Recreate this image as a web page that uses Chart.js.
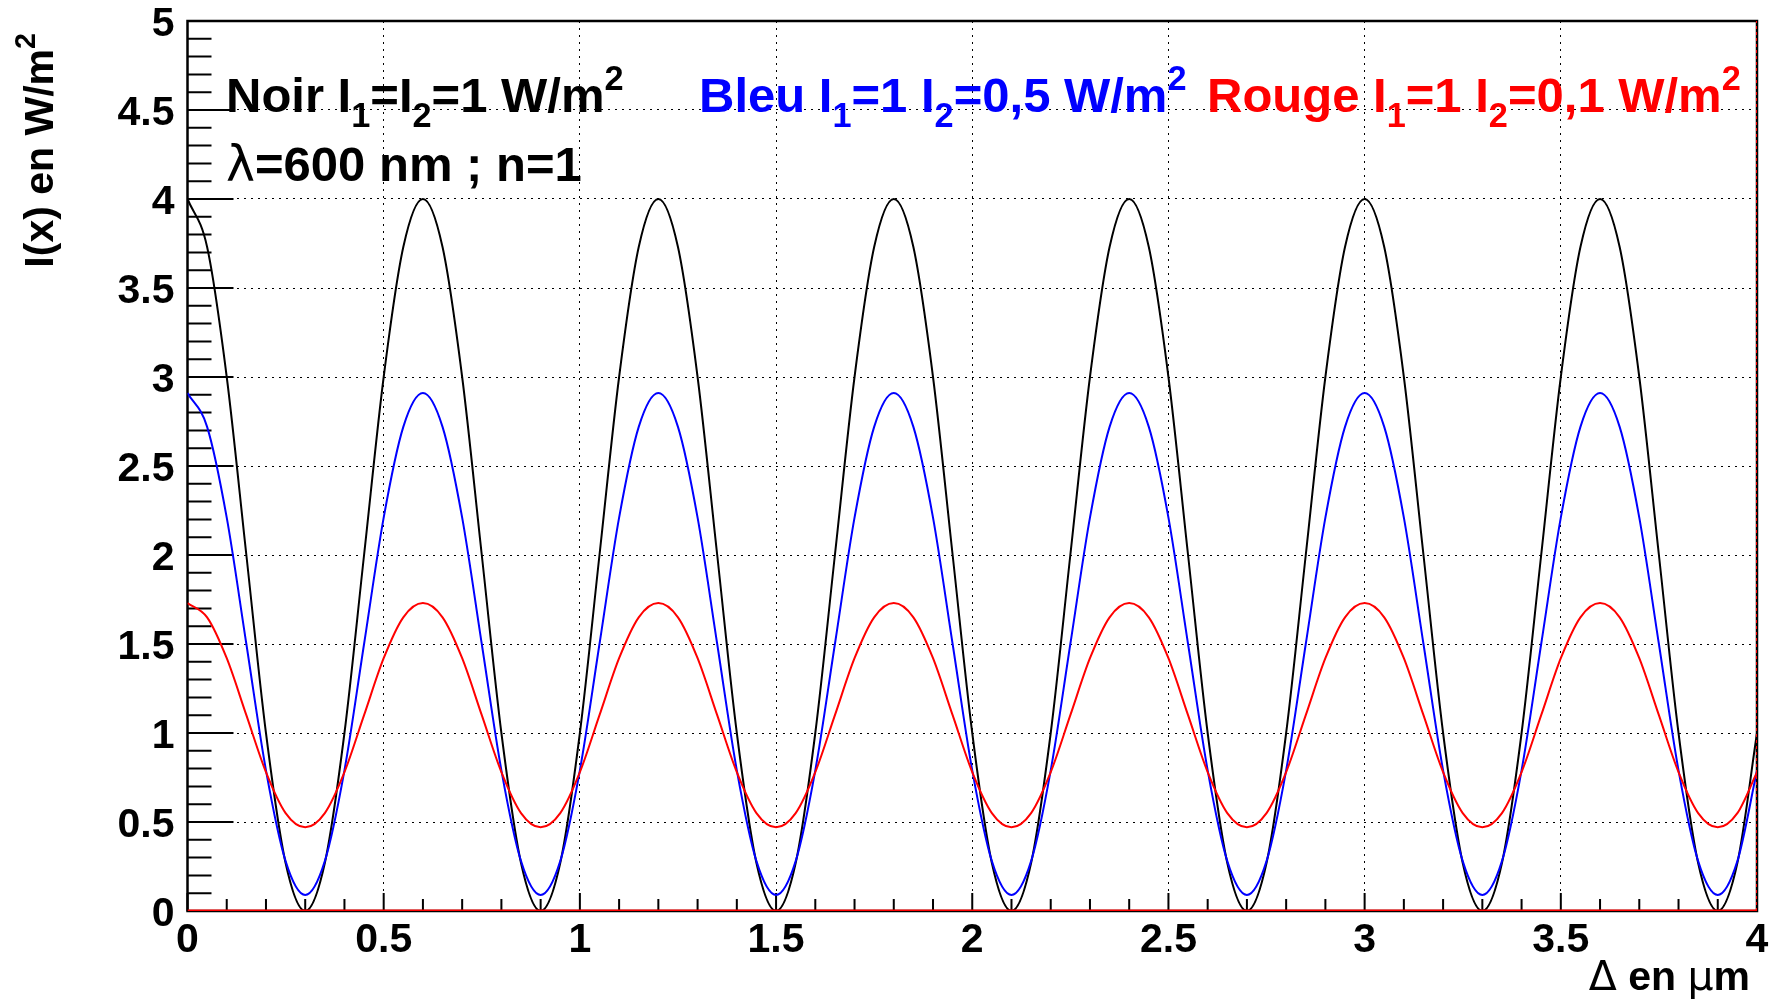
<!DOCTYPE html>
<html>
<head>
<meta charset="utf-8">
<script src="https://cdn.jsdelivr.net/npm/chart.js@4.4.0/dist/chart.umd.min.js"></script>
<style>
  body { margin: 0; background: #fff; }
  #wrap { width: 1776px; height: 1003px; }
</style>
</head>
<body>
<div id="wrap"><canvas id="chart" width="1776" height="1003"></canvas></div>
<script>
// path difference in µm
const xs = [0,0.05,0.1,0.15,0.2,0.25,0.3,0.35,0.4,0.45,0.5,0.55,0.6,0.65,0.7,0.75,0.8,0.85,0.9,0.95,
  1,1.05,1.1,1.15,1.2,1.25,1.3,1.35,1.4,1.45,1.5,1.55,1.6,1.65,1.7,1.75,1.8,1.85,1.9,1.95,
  2,2.05,2.1,2.15,2.2,2.25,2.3,2.35,2.4,2.45,2.5,2.55,2.6,2.65,2.7,2.75,2.8,2.85,2.9,2.95,
  3,3.05,3.1,3.15,3.2,3.25,3.3,3.35,3.4,3.45,3.5,3.55,3.6,3.65,3.7,3.75,3.8,3.85,3.9,3.95,4];

// I1 = I2 = 1
const noir = [4,3.73,3,2,1,0.27,0,0.27,1,2,3,3.73,
  4,3.73,3,2,1,0.27,0,0.27,1,2,3,3.73,
  4,3.73,3,2,1,0.27,0,0.27,1,2,3,3.73,
  4,3.73,3,2,1,0.27,0,0.27,1,2,3,3.73,
  4,3.73,3,2,1,0.27,0,0.27,1,2,3,3.73,
  4,3.73,3,2,1,0.27,0,0.27,1,2,3,3.73,
  4,3.73,3,2,1,0.27,0,0.27,1];

// I1 = 1, I2 = 0.5
const bleu = [2.91,2.72,2.21,1.5,0.79,0.28,0.09,0.28,0.79,1.5,2.21,2.72,
  2.91,2.72,2.21,1.5,0.79,0.28,0.09,0.28,0.79,1.5,2.21,2.72,
  2.91,2.72,2.21,1.5,0.79,0.28,0.09,0.28,0.79,1.5,2.21,2.72,
  2.91,2.72,2.21,1.5,0.79,0.28,0.09,0.28,0.79,1.5,2.21,2.72,
  2.91,2.72,2.21,1.5,0.79,0.28,0.09,0.28,0.79,1.5,2.21,2.72,
  2.91,2.72,2.21,1.5,0.79,0.28,0.09,0.28,0.79,1.5,2.21,2.72,
  2.91,2.72,2.21,1.5,0.79,0.28,0.09,0.28,0.79];

// I1 = 1, I2 = 0.1
const rouge = [1.73,1.65,1.42,1.1,0.78,0.55,0.47,0.55,0.78,1.1,1.42,1.65,
  1.73,1.65,1.42,1.1,0.78,0.55,0.47,0.55,0.78,1.1,1.42,1.65,
  1.73,1.65,1.42,1.1,0.78,0.55,0.47,0.55,0.78,1.1,1.42,1.65,
  1.73,1.65,1.42,1.1,0.78,0.55,0.47,0.55,0.78,1.1,1.42,1.65,
  1.73,1.65,1.42,1.1,0.78,0.55,0.47,0.55,0.78,1.1,1.42,1.65,
  1.73,1.65,1.42,1.1,0.78,0.55,0.47,0.55,0.78,1.1,1.42,1.65,
  1.73,1.65,1.42,1.1,0.78,0.55,0.47,0.55,0.78];

const xRange = [0, 4];
const yRange = [0, 5];

const SANS = '"Liberation Sans", Arial, sans-serif';

// text pieces: [text, kind] with kind sub / sup / sym (greek, thin)
const noirTxt = [['Noir I'], ['1', 'sub'], ['=I'], ['2', 'sub'], ['=1 W/m'], ['2', 'sup']];
const lambdaTxt = [['\u03bb', 'sym'], ['=600 nm ; n=1']];
const bleuTxt = [['Bleu I'], ['1', 'sub'], ['=1 I'], ['2', 'sub'], ['=0,5 W/m'], ['2', 'sup']];
const rougeTxt = [['Rouge I'], ['1', 'sub'], ['=1 I'], ['2', 'sub'], ['=0,1 W/m'], ['2', 'sup']];
const yTitle = [['I(x) en W/m'], ['2', 'sup']];
const xTitle = [['\u0394', 'sym'], [' en '], ['\u00b5', 'sym'], ['m']];

function rich(ctx, parts, x, y, size, color, dry) {
  let cx = x;
  parts.forEach(([t, kind]) => {
    let s = size, dy = 0, font = 'bold ' + size + 'px ' + SANS;
    if (kind === 'sub') { s = size * 0.7; dy = size * 0.3; }
    if (kind === 'sup') { s = size * 0.7; dy = -size * 0.45; }
    if (kind === 'sub' || kind === 'sup') font = 'bold ' + s + 'px ' + SANS;
    if (kind === 'sym') font = 'normal ' + size + 'px "DejaVu Sans", sans-serif';
    ctx.font = font;
    if (!dry) {
      ctx.fillStyle = color;
      ctx.fillText(t, cx, y + dy);
    }
    cx += ctx.measureText(t).width;
  });
  return cx - x;
}

const fmt = v => String(+v.toFixed(2));

const frameTicks = {
  id: 'frameTicks',
  beforeDatasetsDraw(chart) {
    const {ctx, chartArea: a, scales: {x, y}} = chart;
    ctx.save();
    ctx.strokeStyle = '#000';
    ctx.lineWidth = 2;
    ctx.beginPath();
    for (let i = 0; i <= 50; i++) {
      const py = y.getPixelForValue(i / 10);
      const len = i % 5 === 0 ? 46 : 24;
      ctx.moveTo(a.left, py); ctx.lineTo(a.left + len, py);
    }
    for (let i = 0; i <= 40; i++) {
      const px = x.getPixelForValue(i / 10);
      const len = i % 5 === 0 ? 18 : 12;
      ctx.moveTo(px, a.bottom); ctx.lineTo(px, a.bottom - len);
    }
    ctx.stroke();
    ctx.lineWidth = 2.5;
    ctx.strokeRect(a.left, a.top, a.right - a.left, a.bottom - a.top);
    ctx.restore();
  },
  afterDraw(chart) {
    const {ctx} = chart;
    ctx.save();
    ctx.textBaseline = 'alphabetic';
    ctx.textAlign = 'left';
    rich(ctx, noirTxt, 226, 112, 49, '#000');
    rich(ctx, lambdaTxt, 226, 181, 49, '#000');
    rich(ctx, bleuTxt, 699, 112, 49, '#0000ff');
    rich(ctx, rougeTxt, 1207, 112, 49, '#ff0000');

    // x title, right aligned
    const wx = rich(ctx, xTitle, 0, 0, 41, '#000', true);
    rich(ctx, xTitle, 1750 - wx, 990, 41, '#000');

    // y title, rotated, ending near the top
    const wy = rich(ctx, yTitle, 0, 0, 41, '#000', true);
    ctx.translate(53, 33);
    ctx.rotate(-Math.PI / 2);
    rich(ctx, yTitle, -wy, 0, 41, '#000');
    ctx.restore();
  }
};

const pts = ys => xs.map((x, i) => ({x, y: ys[i]}));
const tickFont = {family: SANS, size: 41, weight: 'bold'};

new Chart(document.getElementById('chart'), {
  type: 'line',
  data: {
    datasets: [
      { data: [{x: 0, y: 0}, {x: 4, y: 0}], borderColor: '#ff0000', borderWidth: 3 },
      { data: [{x: 4, y: 0}, {x: 4, y: 5}], borderColor: '#ff0000', borderWidth: 2, borderDash: [3, 3] },
      { data: pts(rouge), borderColor: '#ff0000', borderWidth: 2, cubicInterpolationMode: 'monotone' },
      { data: pts(bleu), borderColor: '#0000ff', borderWidth: 2, cubicInterpolationMode: 'monotone' },
      { data: pts(noir), borderColor: '#000000', borderWidth: 2, cubicInterpolationMode: 'monotone' }
    ]
  },
  options: {
    responsive: false,
    animation: false,
    layout: { padding: { top: 21, right: 19, left: 0, bottom: 0 } },
    plugins: { legend: { display: false }, tooltip: { enabled: false } },
    elements: { point: { radius: 0 } },
    scales: {
      x: {
        type: 'linear', min: xRange[0], max: xRange[1],
        afterFit: s => { s.height = 92; s.paddingLeft = 0; s.paddingRight = 0; },
        ticks: { stepSize: 0.5, padding: 5, color: '#000', font: tickFont, maxRotation: 0, callback: fmt },
        grid: { color: '#000', lineWidth: 1, drawTicks: false },
        border: { display: false, dash: [2, 5] }
      },
      y: {
        min: yRange[0], max: yRange[1],
        afterFit: s => { s.width = 187.5; s.paddingTop = 0; s.paddingBottom = 0; },
        ticks: { stepSize: 0.5, padding: 13, labelOffset: 4, color: '#000', font: tickFont, callback: fmt },
        grid: { color: '#000', lineWidth: 1, drawTicks: false },
        border: { display: false, dash: [2, 5] }
      }
    }
  },
  plugins: [frameTicks]
});
</script>
</body>
</html>
